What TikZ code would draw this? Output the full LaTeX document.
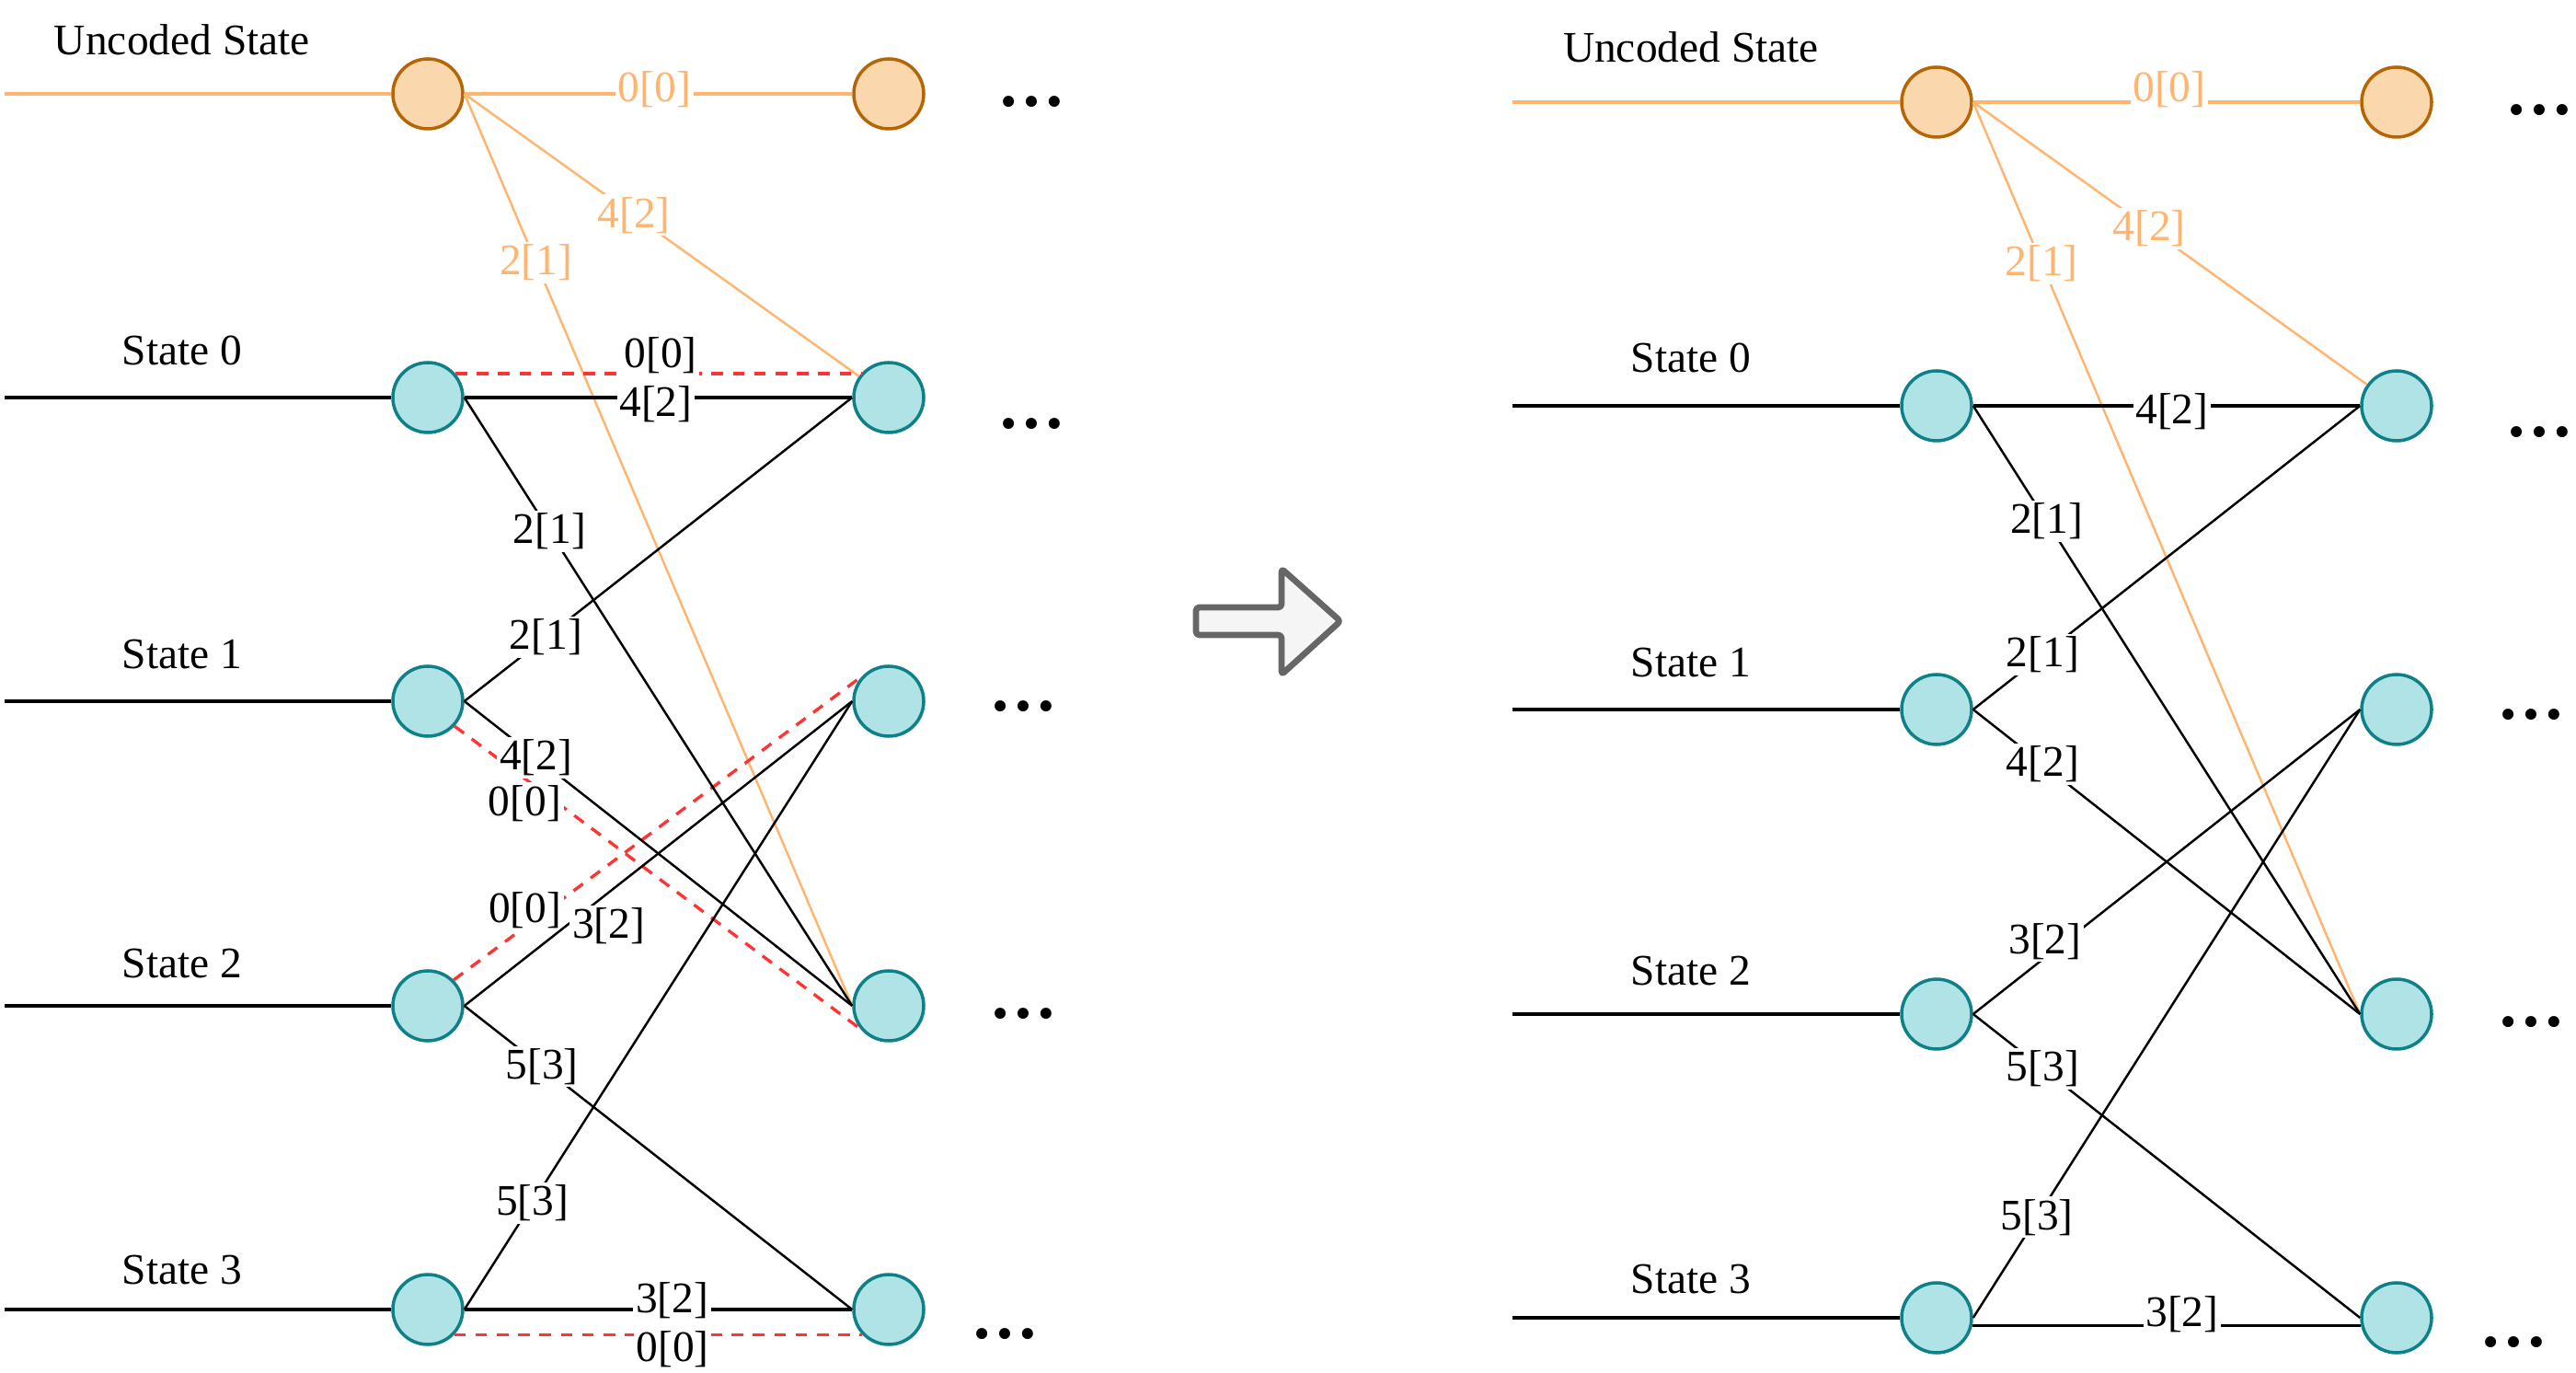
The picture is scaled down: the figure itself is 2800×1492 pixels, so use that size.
\documentclass[tikz,border=0pt]{standalone}
\usepackage{fontspec}
\setmainfont{Liberation Serif}
\usepackage{xcolor}
\usepackage{tikz}
\definecolor{ucfill}{HTML}{FAD7AC}
\definecolor{ucline}{HTML}{B46504}
\definecolor{stfill}{HTML}{B0E3E6}
\definecolor{stline}{HTML}{0E8088}
\definecolor{ucedge}{HTML}{FFB570}
\definecolor{zeroedge}{HTML}{FF3333}
\definecolor{arrowfill}{HTML}{F5F5F5}
\definecolor{arrowline}{HTML}{666666}

\begin{document}
\begin{tikzpicture}[x=0.1mm, y=-0.1mm,
  ucnode/.style={circle, draw=ucline, fill=ucfill, line width=1pt, minimum size=7.6mm, inner sep=0pt},
  stnode/.style={circle, draw=stline, fill=stfill, line width=1pt, minimum size=7.6mm, inner sep=0pt},
  stub/.style={line width=1pt},
  ucstub/.style={ucedge, line width=1pt},
  flat/.style={line width=1pt},
  trans/.style={line width=0.7pt},
  ucflat/.style={ucedge, line width=1pt},
  uctrans/.style={ucedge, line width=0.7pt},
  zero/.style={zeroedge, line width=0.95pt, dash pattern=on 3.6pt off 3pt},
  lbl/.style={fill=white, text=black, inner sep=0.8pt, font=\fontsize{13.5}{14}\selectfont},
  uclbl/.style={lbl, text=ucedge},
  title/.style={anchor=base, font=\fontsize{13.5}{14}\selectfont},
  more/.style={font=\fontsize{21}{21}\selectfont\bfseries}]
\useasboundingbox (0,0) rectangle (2800,1492);

% Left trellis
\node[ucnode] (lu1) at (465,102) {};
\node[ucnode] (lu2) at (966,102) {};
\node[stnode] (l0a) at (465,432) {};
\node[stnode] (l0b) at (966,432) {};
\node[stnode] (l1a) at (465,762) {};
\node[stnode] (l1b) at (966,762) {};
\node[stnode] (l2a) at (465,1093) {};
\node[stnode] (l2b) at (966,1093) {};
\node[stnode] (l3a) at (465,1423) {};
\node[stnode] (l3b) at (966,1423) {};

\node[title] (ltu) at (198,60) {Uncoded State};
\node[title] (lt0) at (198,397) {State 0};
\node[title] (lt1) at (198,727) {State 1};
\node[title] (lt2) at (198,1063) {State 2};
\node[title] (lt3) at (198,1395) {State 3};

\node[more] (ldu) at (1121,111) {…};
\node[more] (ld0) at (1121,461) {…};
\node[more] (ld1) at (1112,768) {…};
\node[more] (ld2) at (1112,1102) {…};
\node[more] (ld3) at (1092,1450) {…};

\coordinate (linu) at (5,102);
\coordinate (lin0) at (5,432);
\coordinate (lin1) at (5,762);
\coordinate (lin2) at (5,1093);
\coordinate (lin3) at (5,1423);
\draw[ucstub] (linu) -- (lu1.west);
\draw[stub] (lin0) -- (l0a.west);
\draw[stub] (lin1) -- (l1a.west);
\draw[stub] (lin2) -- (l2a.west);
\draw[stub] (lin3) -- (l3a.west);

% uncoded branches
\draw[ucflat] (lu1.east) -- node[uclbl, pos=0.49, yshift=1.5pt] {0[0]} (lu2.west);
\draw[uctrans] (lu1.east) -- node[uclbl, pos=0.43] {4[2]} (l0b);
\draw[uctrans] (lu1.east) -- node[uclbl, pos=0.185] {2[1]} (l2b.west);

% zero branches
\draw[zero] (l0a.41) -- node[lbl, pos=0.506, yshift=5.7pt] {0[0]} (l0b.139);
\draw[zero] (l1a.-43) -- node[lbl, pos=0.2, xshift=-3.4pt, yshift=-5.1pt] {0[0]} (l2b.-141);
\draw[zero] (l2a.45) -- node[lbl, pos=0.175, yshift=5.1pt] {0[0]} (l1b.137);
\draw[zero] (l3a.-44) -- node[lbl, pos=0.535, yshift=-4.3pt] {0[0]} (l3b.-136);

% coded branches
\draw[flat] (l0a.east) -- node[lbl, pos=0.494, yshift=-2pt] {4[2]} (l0b.west);
\draw[trans] (l0a.east) -- node[lbl, pos=0.22] {2[1]} (l2b.west);
\draw[trans] (l1a.east) -- node[lbl, pos=0.21] {2[1]} (l0b.west);
\draw[trans] (l1a.east) -- node[lbl, pos=0.185] {4[2]} (l2b.west);
\draw[trans] (l2a.east) -- node[lbl, pos=0.3, xshift=8.7pt, yshift=-3.7pt] {3[2]} (l1b.west);
\draw[trans] (l2a.east) -- node[lbl, pos=0.2] {5[3]} (l3b.west);
\draw[trans] (l3a.east) -- node[lbl, pos=0.175] {5[3]} (l1b.west);
\draw[flat] (l3a.east) -- node[lbl, pos=0.536, yshift=2.8pt] {3[2]} (l3b.west);

% Arrow
\draw[arrowline, fill=arrowfill, line width=1.9pt, rounded corners=1pt, line join=round]
  (1300,660) -- (1393,660) -- (1393,618) -- (1457,675) -- (1393,733) -- (1393,690) -- (1300,690) -- cycle;

% Right trellis
\node[ucnode] (ru1) at (2105,111) {};
\node[ucnode] (ru2) at (2605,111) {};
\node[stnode] (r0a) at (2105,441) {};
\node[stnode] (r0b) at (2605,441) {};
\node[stnode] (r1a) at (2105,771) {};
\node[stnode] (r1b) at (2605,771) {};
\node[stnode] (r2a) at (2105,1102) {};
\node[stnode] (r2b) at (2605,1102) {};
\node[stnode] (r3a) at (2105,1432) {};
\node[stnode] (r3b) at (2605,1432) {};

\node[title] (rtu) at (1838,68) {Uncoded State};
\node[title] (rt0) at (1838,405) {State 0};
\node[title] (rt1) at (1838,736) {State 1};
\node[title] (rt2) at (1838,1071) {State 2};
\node[title] (rt3) at (1838,1405) {State 3};

\node[more] (rdu) at (2760,120) {…};
\node[more] (rd0) at (2760,470) {…};
\node[more] (rd1) at (2751,777) {…};
\node[more] (rd2) at (2751,1111) {…};
\node[more] (rd3) at (2732,1459) {…};

\coordinate (rinu) at (1644,111);
\coordinate (rin0) at (1644,441);
\coordinate (rin1) at (1644,771);
\coordinate (rin2) at (1644,1102);
\coordinate (rin3) at (1644,1432);
\draw[ucstub] (rinu) -- (ru1.west);
\draw[stub] (rin0) -- (r0a.west);
\draw[stub] (rin1) -- (r1a.west);
\draw[stub] (rin2) -- (r2a.west);
\draw[stub] (rin3) -- (r3a.west);

% uncoded branches
\draw[ucflat] (ru1.east) -- node[uclbl, pos=0.507, yshift=4pt] {0[0]} (ru2.west);
\draw[uctrans] (ru1.east) -- node[uclbl, pos=0.447] {4[2]} (r0b);
\draw[uctrans] (ru1.east) -- node[uclbl, pos=0.177] {2[1]} (r2b.west);

% coded branches
\draw[flat] (r0a.east) -- node[lbl, pos=0.514, yshift=-1.7pt] {4[2]} (r0b.west);
\draw[trans] (r0a.east) -- node[lbl, pos=0.19] {2[1]} (r2b.west);
\draw[trans] (r1a.east) -- node[lbl, pos=0.18] {2[1]} (r0b.west);
\draw[trans] (r1a.east) -- node[lbl, pos=0.18] {4[2]} (r2b.west);
\draw[trans] (r2a.east) -- node[lbl, pos=0.2, xshift=-1.7pt, yshift=3.7pt] {3[2]} (r1b.west);
\draw[trans] (r2a.east) -- node[lbl, pos=0.18] {5[3]} (r3b.west);
\draw[trans] (r3a.east) -- node[lbl, pos=0.165] {5[3]} (r1b.west);
\draw[flat] (r3a.-12) -- node[lbl, pos=0.54, yshift=3.4pt] {3[2]} (r3b.-168);
\end{tikzpicture}
\end{document}
